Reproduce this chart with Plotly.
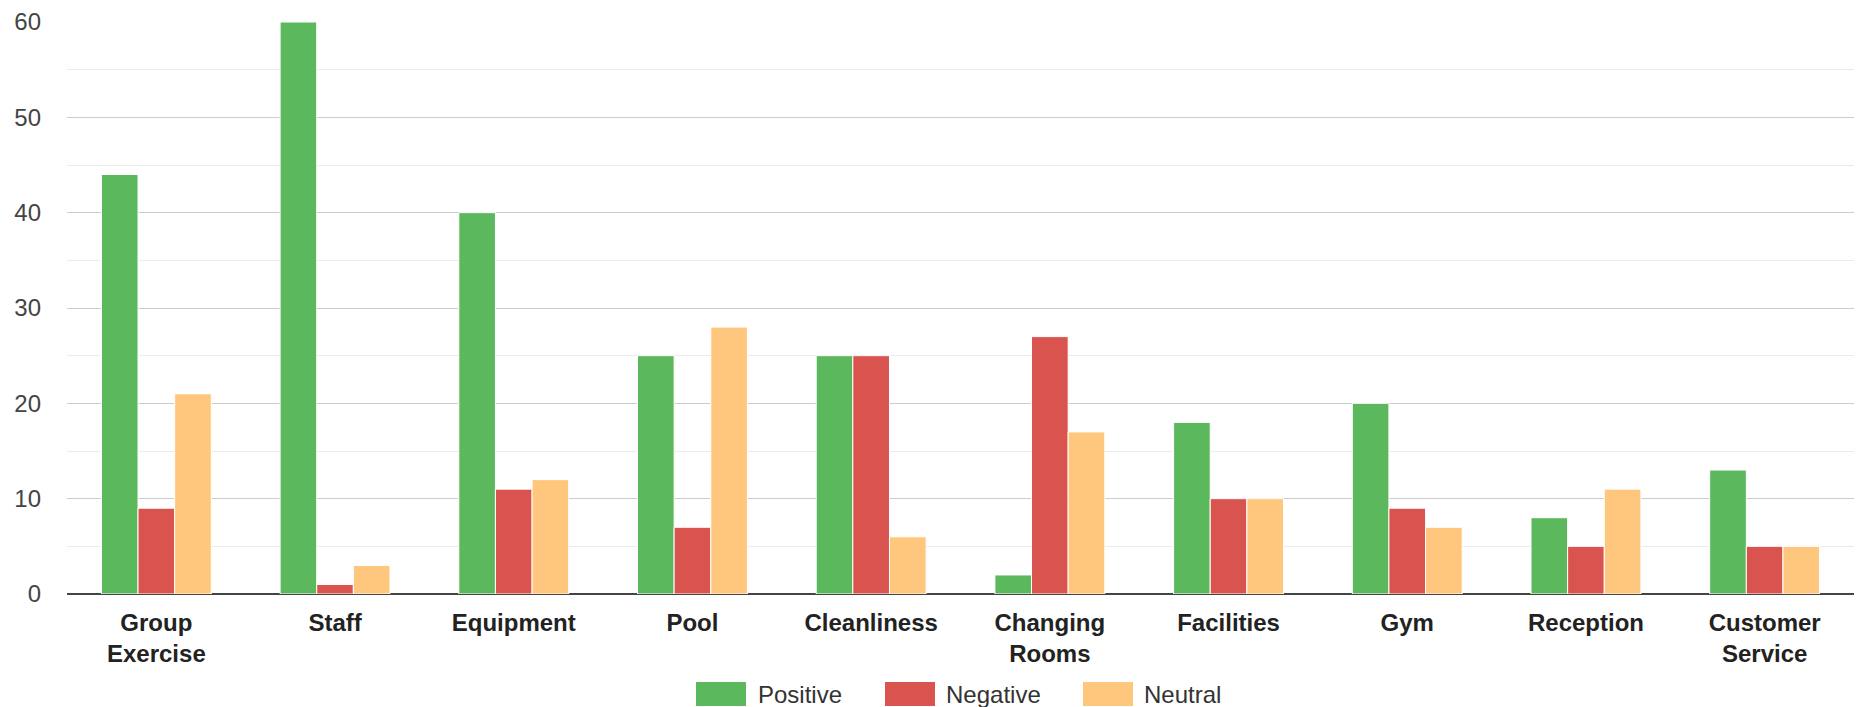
import plotly.graph_objects as go

categories = ["Group Exercise", "Staff", "Equipment", "Pool", "Cleanliness",
              "Changing Rooms", "Facilities", "Gym", "Reception", "Customer Service"]
tick_labels = ["Group<br>Exercise", "Staff", "Equipment", "Pool", "Cleanliness",
               "Changing<br>Rooms", "Facilities", "Gym", "Reception", "Customer<br>Service"]
positive = [44, 60, 40, 25, 25, 2, 18, 20, 8, 13]
negative = [9, 1, 11, 7, 25, 27, 10, 9, 5, 5]
neutral = [21, 3, 12, 28, 6, 17, 10, 7, 11, 5]

series_names = ["Positive", "Negative", "Neutral"]
series_values = [positive, negative, neutral]
colors = ["#5cb85c", "#d9534f", "#ffc77d"]

W, H = 1862, 707
ML, MR, MT, MB = 67, 8, 22, 113
PW, PH = W - ML - MR, H - MT - MB

fig = go.Figure()
for name, vals, col in zip(series_names, series_values, colors):
    fig.add_trace(go.Bar(
        x=categories, y=vals, name=name,
        marker=dict(color=col, line=dict(color="white", width=1)),
        showlegend=False,
    ))

FONT = "Arial, Liberation Sans, sans-serif"

# custom legend (large swatches like the reference)
def px2x(px):
    return (px - ML) / PW

def py2y(py):
    return (H - MB - py) / PH

legend_x = [696, 885, 1083]
legend_text_x = [756, 944, 1142]
shapes = []
annotations = []
for i, (name, col) in enumerate(zip(series_names, colors)):
    shapes.append(dict(type="rect", xref="paper", yref="paper",
                       x0=px2x(legend_x[i]), x1=px2x(legend_x[i] + 50),
                       y0=py2y(706), y1=py2y(682),
                       fillcolor=col, line=dict(width=0)))
    annotations.append(dict(xref="paper", yref="paper",
                            x=px2x(legend_text_x[i]), y=py2y(694),
                            xanchor="left", yanchor="middle", showarrow=False,
                            text=name, font=dict(family=FONT, size=24, color="#333333")))

fig.update_layout(
    width=W, height=H,
    margin=dict(l=ML, r=MR, t=MT, b=MB, autoexpand=False),
    paper_bgcolor="white", plot_bgcolor="white",
    barmode="group", bargap=0.385, bargroupgap=0,
    font=dict(family=FONT),
    shapes=shapes, annotations=annotations,
    xaxis=dict(
        tickmode="array", tickvals=categories, ticktext=tick_labels,
        tickfont=dict(family=FONT, size=24, color="#222222", weight="bold"),
        showgrid=False, showline=False, ticks="", automargin=False,
        ticklabelstandoff=12,
    ),
    yaxis=dict(
        range=[0, 60], dtick=10, tick0=0, automargin=False,
        tickfont=dict(family=FONT, size=24, color="#444444"),
        gridcolor="#cccccc", gridwidth=1,
        minor=dict(dtick=5, showgrid=True, gridcolor="#ebebeb", gridwidth=1),
        zeroline=True, zerolinecolor="#444444", zerolinewidth=2,
        ticklabelstandoff=25,
    ),
)

fig.write_html("out.html",
               config={"displayModeBar": False},
               post_script="document.body.style.margin='0';document.body.style.overflow='hidden';")
